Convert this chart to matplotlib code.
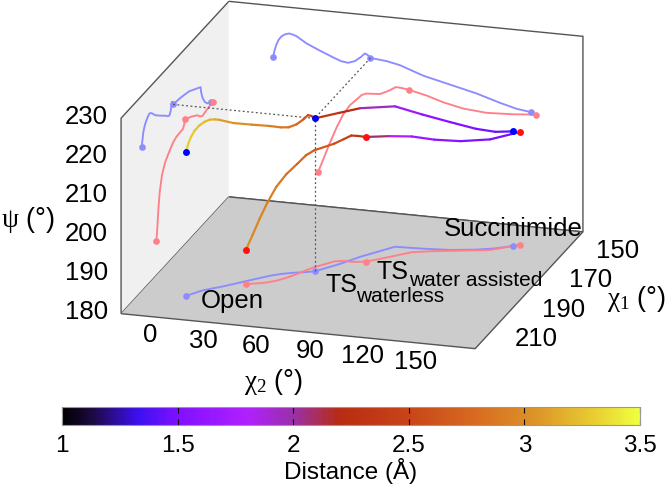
import matplotlib
matplotlib.use("Agg")
import matplotlib.pyplot as plt
import numpy as np
from matplotlib.cm import ScalarMappable
from matplotlib.colors import LinearSegmentedColormap, Normalize
from mpl_toolkits.mplot3d import proj3d
from mpl_toolkits.mplot3d.art3d import Line3DCollection

plt.rcParams["font.family"] = "Liberation Sans"
plt.rcParams["mathtext.fontset"] = "custom"
plt.rcParams["mathtext.rm"] = "Liberation Sans"
plt.rcParams["mathtext.it"] = "Liberation Serif"
plt.rcParams["mathtext.bf"] = "Liberation Serif"

W, H = 666, 484

# waterless path
blue_chi2 = [5, 5.8, 6.9, 8.2, 9.8, 11.8, 14.1, 16.3, 18.2, 23.9, 31.4, 38.9, 43.7, 47.4, 51.2, 54.6, 56.8, 58.4, 60, 69.1, 76.6, 89.8, 104.9, 119.9, 133.1, 142.5, 150.5]
blue_chi1 = [204.7, 204.1, 203.5, 202.5, 201.2, 200, 199, 198, 197.3, 194.5, 190.7, 187, 185.2, 184.2, 183.3, 182.7, 182.2, 181.8, 181.4, 175.5, 169.5, 161, 160.5, 159.6, 157.8, 155.8, 153.2]
blue_psi = [216.8, 218.6, 220.2, 221.5, 222.4, 223, 223.3, 223.1, 222.8, 221.2, 219.7, 218.3, 217.5, 217.3, 217.9, 219.1, 220.1, 219.8, 219.1, 218.7, 218, 215.9, 214.3, 212.7, 210.9, 209.8, 209.3]
blue_dist = [3.3, 3.3, 3.3, 3.28, 3.25, 3.22, 3.2, 3.15, 3.1, 3.05, 3.0, 2.9, 2.87, 2.85, 2.78, 2.68, 2.6, 2.5, 2.4, 2.25, 2.15, 1.75, 1.6, 1.55, 1.5, 1.45, 1.4]
blue_nodes = [0, 18, 26]

# water assisted path
red_chi2 = [30.5, 33.7, 37.1, 40.8, 44.6, 48.4, 52.1, 55, 57.8, 65.3, 70, 74.4, 77.6, 81.9, 91.7, 101.1, 112.4, 125.6, 140.6, 153.4]
red_chi1 = [193.8, 193, 192.3, 191.3, 189.7, 187.3, 184.2, 181.3, 178.9, 174, 173, 173.2, 172.8, 172.2, 167.8, 163.4, 161.3, 159.4, 157.2, 152]
red_psi = [188.7, 192.4, 196.4, 200.4, 204, 206.5, 208.1, 209.4, 209.9, 210.1, 211.1, 212.3, 212.2, 211.9, 210.9, 209.6, 208.5, 208, 208.3, 208.8]
red_dist = [3.0, 2.98, 2.95, 2.92, 2.9, 2.85, 2.8, 2.75, 2.7, 2.6, 2.5, 2.4, 2.32, 2.25, 1.9, 1.7, 1.6, 1.55, 1.5, 1.45]
red_nodes = [0, 13, 19]

chi2_ticks = [0, 30, 60, 90, 120, 150]
chi1_ticks = [150, 170, 190, 210]
psi_ticks = [180, 190, 200, 210, 220, 230]
dist_ticks = [1, 1.5, 2, 2.5, 3, 3.5]

cmap_stops = [(0.0, "#000000"), (0.05, "#1c0a40"), (0.13, "#3c10f0"), (0.2, "#8010ff"),
              (0.32, "#b020ff"), (0.4, "#9a30a8"), (0.48, "#b82c12"), (0.6, "#c84418"),
              (0.72, "#d86c20"), (0.82, "#dc9428"), (0.92, "#e8cc30"), (1.0, "#f0ff40")]
cmap = LinearSegmentedColormap.from_list("dist", cmap_stops)
norm = Normalize(1, 3.5)


def px(x, y):
    return x / W, 1 - y / H


def path3d(ax, x, y, z, dist):
    pts = np.column_stack([x, y, z])
    segs = np.stack([pts[:-1], pts[1:]], axis=1)
    d = (np.array(dist[:-1]) + np.array(dist[1:])) / 2
    lc = Line3DCollection(segs, colors=cmap(norm(d)), linewidths=1.6, capstyle="round", zorder=5)
    ax.add_collection3d(lc)


def shadows(ax, x, y, z, nodes, color):
    x, y, z = np.array(x), np.array(y), np.array(z)
    for sx, sy, sz in [(x, y, np.full_like(z, 180.0)),
                       (np.full_like(x, -20.0), y, z),
                       (x, np.full_like(y, 140.0), z)]:
        ax.plot(sx, sy, sz, color=color, lw=1.35, zorder=3, solid_joinstyle="round")
        ax.plot(sx[nodes], sy[nodes], sz[nodes], "o", color=color, ms=4.8, mew=0, zorder=4)


def tick_text(ax, x, y, z, label, ha="center"):
    # the labels sit outside the box, so place them in 2D after projecting
    x2, y2, _ = proj3d.proj_transform(x, y, z, ax.get_proj())
    ax.text2D(x2, y2, label, transform=ax.transData, fontsize=18.5, ha=ha, va="center")


fig = plt.figure(figsize=(W / 100, H / 100), dpi=100)
ax = fig.add_axes([70.6 / W, 27.6 / H, 548 / W, 548 / H], projection="3d", computed_zorder=False)
ax.set_proj_type("ortho")
ax.set_box_aspect((370, 373, 207))
ax.view_init(elev=19.1, azim=-73.2)
ax.set_xlim(-20, 180, view_margin=0)
ax.set_ylim(220, 140, view_margin=0)
ax.set_zlim(180, 230, view_margin=0)
ax.patch.set_visible(False)
ax.grid(False)
ax.set_xticks([])
ax.set_yticks([])
ax.set_zticks([])
for axis, face in [(ax.xaxis, "#f0f0f0"), (ax.yaxis, "#ffffff"), (ax.zaxis, "#cccccc")]:
    axis.set_pane_color(face)
    axis.pane.set_edgecolor("#555555")
    axis.pane.set_linewidth(1.0)
    axis.line.set_color((0, 0, 0, 0))
    axis.label.set_visible(False)
    axis.offsetText.set_visible(False)

shadows(ax, blue_chi2, blue_chi1, blue_psi, blue_nodes, "#8c8cff")
shadows(ax, red_chi2, red_chi1, red_psi, red_nodes, "#ff8088")

# dotted guides from the waterless TS to the walls
ts = blue_nodes[1]
tx, ty, tz = blue_chi2[ts], blue_chi1[ts], blue_psi[ts]
for gx, gy, gz in [([tx, tx], [ty, ty], [180, tz]),
                   ([-20, tx], [ty, ty], [tz, tz]),
                   ([tx, tx], [140, ty], [tz, tz])]:
    ax.plot(gx, gy, gz, color="#555555", lw=0.9, ls=(0, (1.5, 2)), zorder=4)

path3d(ax, blue_chi2, blue_chi1, blue_psi, blue_dist)
path3d(ax, red_chi2, red_chi1, red_psi, red_dist)
for x, y, z, nodes, c in [(blue_chi2, blue_chi1, blue_psi, blue_nodes, "#0000ff"),
                          (red_chi2, red_chi1, red_psi, red_nodes, "#ff1010")]:
    ax.plot(np.array(x)[nodes], np.array(y)[nodes], np.array(z)[nodes], "o", color=c, ms=5.0, mew=0, zorder=6)

for t in chi2_ticks:
    tick_text(ax, t - 3.5, 220, 175.2, str(t))
for t in chi1_ticks:
    tick_text(ax, 207, t, 180, str(t))
for t in psi_ticks:
    tick_text(ax, -27.5, 220, t, str(t), ha="right")

fig.text(*px(273, 382), r"$\chi_{\mathbf{2}}$ (°)", fontsize=19.5, ha="center", va="center")
fig.text(*px(636, 299), r"$\chi_{\mathbf{1}}$ (°)", fontsize=19.5, ha="center", va="center")
fig.text(*px(28, 220), r"$\psi$ (°)", fontsize=19.5, ha="center", va="center")

fig.text(*px(201, 301), "Open", fontsize=18.5, ha="left", va="center")
fig.text(*px(444, 229), "Succinimide", fontsize=18.5, ha="left", va="center")
fig.text(*px(326, 285), "TS", fontsize=18, ha="left", va="center")
fig.text(*px(356, 296), "waterless", fontsize=15, ha="left", va="center")
fig.text(*px(377, 272), "TS", fontsize=18, ha="left", va="center")
fig.text(*px(409, 281), "water assisted", fontsize=15, ha="left", va="center")

cax = fig.add_axes([62 / W, 1 - 425 / H, 578 / W, 18 / H])
cb = fig.colorbar(ScalarMappable(norm=norm, cmap=cmap), cax=cax, orientation="horizontal")
cb.set_ticks(dist_ticks)
cb.set_ticklabels([str(t) for t in dist_ticks])
cb.outline.set_edgecolor("#999999")
cax.tick_params(axis="x", direction="in", length=4, width=0.8, top=True, labelsize=17.5, pad=7)
cb.set_label("Distance (Å)", fontsize=17.5, labelpad=1)

fig.savefig("out.png", dpi=100)
